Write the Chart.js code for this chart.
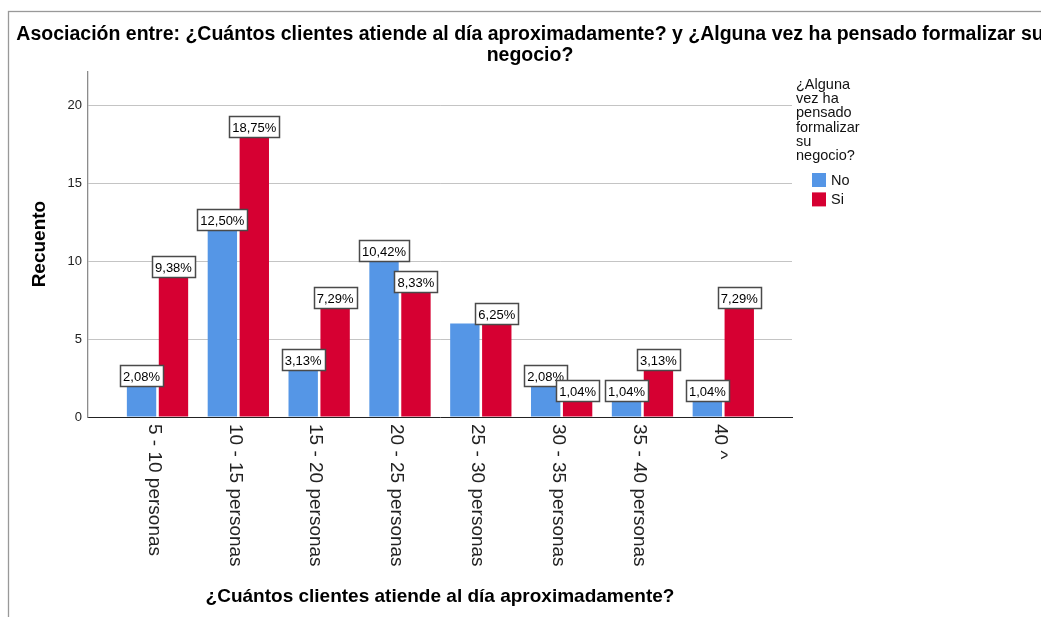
<!DOCTYPE html>
<html><head><meta charset="utf-8">
<script src="https://cdn.jsdelivr.net/npm/chart.js@4.4.1/dist/chart.umd.min.js"></script>
<style>html,body{margin:0;padding:0;background:#fff;overflow:hidden}#wrap{position:relative;width:1060px;height:617px}</style>
</head><body><div id="wrap"><canvas id="c"></canvas></div>
<script>
const chartTitle = ['Asociación entre: ¿Cuántos clientes atiende al día aproximadamente? y ¿Alguna vez ha pensado formalizar su', 'negocio?'];
const categories = ['5 - 10 personas','10 - 15 personas','15 - 20 personas','20 - 25 personas','25 - 30 personas','30 - 35 personas','35 - 40 personas','40 ^'];
const seriesNames = ['No','Si'];
const noCounts = [2,12,3,10,6,2,1,1];
const siCounts = [9,18,7,8,6,1,3,7];
const noPctLabels = ['2,08%','12,50%','3,13%','10,42%',null,'2,08%','1,04%','1,04%'];
const siPctLabels = ['9,38%','18,75%','7,29%','8,33%','6,25%','1,04%','3,13%','7,29%'];
const yTicks = [0,5,10,15,20];
const legendTitleLines = ['¿Alguna','vez ha','pensado','formalizar','su','negocio?'];
const xTitle = '¿Cuántos clientes atiende al día aproximadamente?';
const yTitle = 'Recuento';

const FONT = '"Liberation Sans", Arial, sans-serif';
const COLORS = ['#5596E6', '#D60032'];
const pctLabels = [noPctLabels, siPctLabels];

const decorPlugin = {
  id: 'decor',
  beforeDraw(chart) {
    const ctx = chart.ctx;
    ctx.save();
    ctx.strokeStyle = '#999';
    ctx.lineWidth = 1.3;
    ctx.strokeRect(8.5, 11.5, 3000, 3000);
    ctx.restore();
  },
  afterDatasetsDraw(chart) {
    const ctx = chart.ctx;
    ctx.save();
    ctx.font = '13px ' + FONT;
    ctx.textAlign = 'center';
    ctx.textBaseline = 'middle';
    chart.data.datasets.forEach((ds, di) => {
      const meta = chart.getDatasetMeta(di);
      meta.data.forEach((el, j) => {
        const t = pctLabels[di][j];
        if (!t) return;
        const w = Math.round(ctx.measureText(t).width) + 6;
        const h = 21;
        const x = Math.round(el.x - w / 2) + 0.5;
        const y = Math.round(el.y - h) + 0.5;
        ctx.fillStyle = '#fff';
        ctx.fillRect(x, y, w, h);
        ctx.strokeStyle = '#4a4a4a';
        ctx.lineWidth = 1.5;
        ctx.strokeRect(x, y, w, h);
        ctx.fillStyle = '#000';
        ctx.fillText(t, el.x, y + h / 2 + 1);
      });
    });
    ctx.restore();
  },
  afterDraw(chart) {
    const ctx = chart.ctx;
    const xs = chart.scales.x;
    const area = chart.chartArea;
    ctx.save();
    // category labels, rotated clockwise
    ctx.font = '19px ' + FONT;
    ctx.fillStyle = '#222';
    ctx.textAlign = 'left';
    ctx.textBaseline = 'middle';
    categories.forEach((c, i) => {
      const px = xs.getPixelForValue(i) - 3.5;
      ctx.save();
      ctx.translate(px, area.bottom + 7);
      ctx.rotate(Math.PI / 2);
      ctx.fillText(c, 0, 0);
      ctx.restore();
    });
    // legend
    const lx = area.right + 4;
    ctx.font = '14.5px ' + FONT;
    ctx.fillStyle = '#111';
    ctx.textBaseline = 'alphabetic';
    legendTitleLines.forEach((l, i) => ctx.fillText(l, lx, 89 + i * 14.2));
    seriesNames.forEach((n, i) => {
      const by = 173 + i * 19.4;
      ctx.fillStyle = COLORS[i];
      ctx.fillRect(lx + 16, by, 14, 14);
      ctx.fillStyle = '#111';
      ctx.textBaseline = 'middle';
      ctx.fillText(n, lx + 35, by + 8);
    });
    ctx.restore();
  }
};

new Chart(document.getElementById('c'), {
  type: 'bar',
  data: {
    datasets: [
      { label: seriesNames[0], data: noCounts.map((v, i) => ({x: i, y: v})), backgroundColor: COLORS[0] },
      { label: seriesNames[1], data: siCounts.map((v, i) => ({x: i, y: v})), backgroundColor: COLORS[1] }
    ]
  },
  options: {
    responsive: true,
    maintainAspectRatio: false,
    animation: false,
    layout: { padding: 0 },
    datasets: { bar: { categoryPercentage: 0.79, barPercentage: 0.92, borderWidth: 0 } },
    plugins: {
      legend: { display: false },
      tooltip: { enabled: false },
      title: {
        display: true, text: chartTitle, color: '#000',
        font: { family: FONT, size: 19.5, weight: 'bold', lineHeight: 1.03 },
        padding: { top: 25, bottom: 6 }
      }
    },
    scales: {
      x: {
        type: 'linear', min: -0.86, max: 7.85, offset: false,
        afterBuildTicks(s) { s.ticks = categories.map((c, i) => ({ value: i })); },
        grid: { display: false },
        border: { display: true, color: '#222', width: 1 },
        ticks: { display: false },
        title: { display: true, text: xTitle, color: '#000', font: { family: FONT, size: 19, weight: 'bold' }, padding: { top: 0, bottom: 9 } },
        afterFit(s) { s.height = 200; }
      },
      y: {
        min: 0, max: 22.2,
        afterBuildTicks(s) { s.ticks = yTicks.map(v => ({ value: v })); },
        grid: { color: (c) => c.tick && c.tick.value === 0 ? 'rgba(0,0,0,0)' : '#c4c4c4', drawTicks: false, lineWidth: 1 },
        border: { display: true, color: '#8c8c8c', width: 1.3 },
        ticks: { color: '#222', font: { family: FONT, size: 13 }, padding: 6 },
        title: { display: true, text: yTitle, color: '#000', font: { family: FONT, size: 19, weight: 'bold' }, padding: { top: 28.6, bottom: 0 } },
        afterFit(s) { s.width = 88; }
      },
      side: {
        type: 'linear', position: 'right', display: true,
        grid: { display: false }, border: { display: false }, ticks: { display: false },
        afterFit(s) { s.width = 268; }
      }
    }
  },
  plugins: [decorPlugin]
});
</script>
</body></html>
